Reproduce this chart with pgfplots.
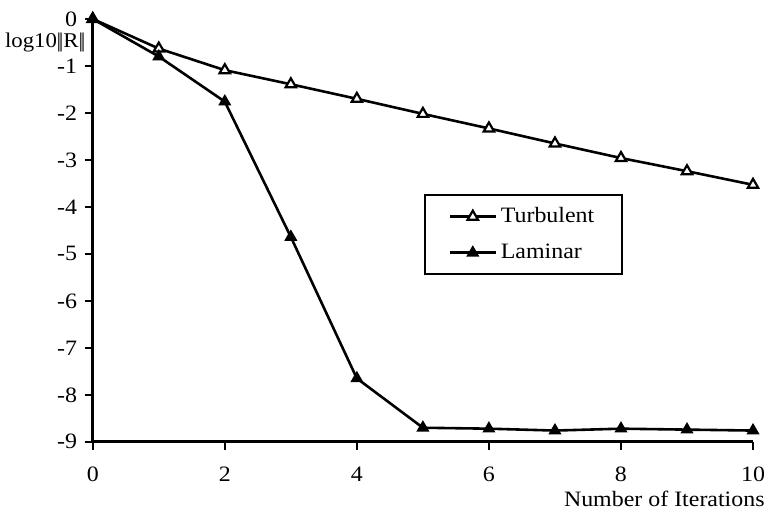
\documentclass[border=0pt]{standalone}
\usepackage{pgfplots}
\pgfplotsset{compat=1.18}
\usepackage{fontspec}
\setmainfont{Liberation Serif}[FakeStretch=1.09]
\begin{document}
\fontsize{11}{13}\selectfont
\begin{tikzpicture}
\begin{axis}[
    scale only axis,
    width=331pt, height=212pt,
    xmin=0, xmax=10,
    ymin=-9, ymax=0,
    axis x line=bottom,
    axis y line=left,
    axis line style={line width=1.5pt, -},
    xtick={0,2,4,6,8,10},
    ytick={-9,-8,-7,-6,-5,-4,-3,-2,-1,0},
    tick align=outside,
    tick style={line width=1.2pt, black},
    major tick length=4pt,
    /pgf/number format/assume math mode=true,
    ticklabel style={font=\fontsize{11}{13}\selectfont},
    xticklabel style={inner xsep=0pt, inner ysep=1pt, yshift=-7.5pt},
    clip=false,
    legend style={at={(rel axis cs:0.5015,0.585)}, anchor=north west,
        draw=black, line width=1pt, font=\fontsize{11}{13}\selectfont,
        inner xsep=12pt, inner ysep=4pt, row sep=5pt,
        cells={anchor=west}},
    legend image code/.code={\draw[mark repeat=2,mark phase=2]
        plot coordinates {(0cm,0cm) (0.4cm,0cm) (0.8cm,0cm)};},
    every axis plot/.append style={line width=1.3pt, black},
]

\addplot[mark=triangle*, mark size=3pt, mark options={fill=white, line width=1.1pt}]
coordinates {
    (0,0) (1,-0.63) (2,-1.09) (3,-1.39) (4,-1.70) (5,-2.02)
    (6,-2.33) (7,-2.65) (8,-2.96) (9,-3.24) (10,-3.53)
};
\addlegendentry{Turbulent}

\addplot[mark=triangle*, mark size=3pt, mark options={fill=black, line width=0.8pt}]
coordinates {
    (0,0) (1,-0.80) (2,-1.76) (3,-4.64) (4,-7.65) (5,-8.70)
    (6,-8.72) (7,-8.76) (8,-8.72) (9,-8.74) (10,-8.76)
};
\addlegendentry{Laminar}

\node[anchor=east, inner sep=0pt, font=\fontsize{10.5}{12}\selectfont] at (axis cs:0,-0.5) [xshift=-3.5pt]
    {log10\kern-0.2pt|\kern-1.2pt|R|\kern-1.2pt|};
\node[anchor=north east, inner sep=0pt] at (rel axis cs:1,0) [xshift=6pt, yshift=-24.5pt] {Number of Iterations};
\end{axis}
\path (current axis.south west) ++(-46.5pt,-35pt) coordinate (bbl);
\path (current axis.north east) ++(6.5pt,9.5pt) coordinate (bbr);
\path (bbl) rectangle (bbr);
\end{tikzpicture}
\end{document}
